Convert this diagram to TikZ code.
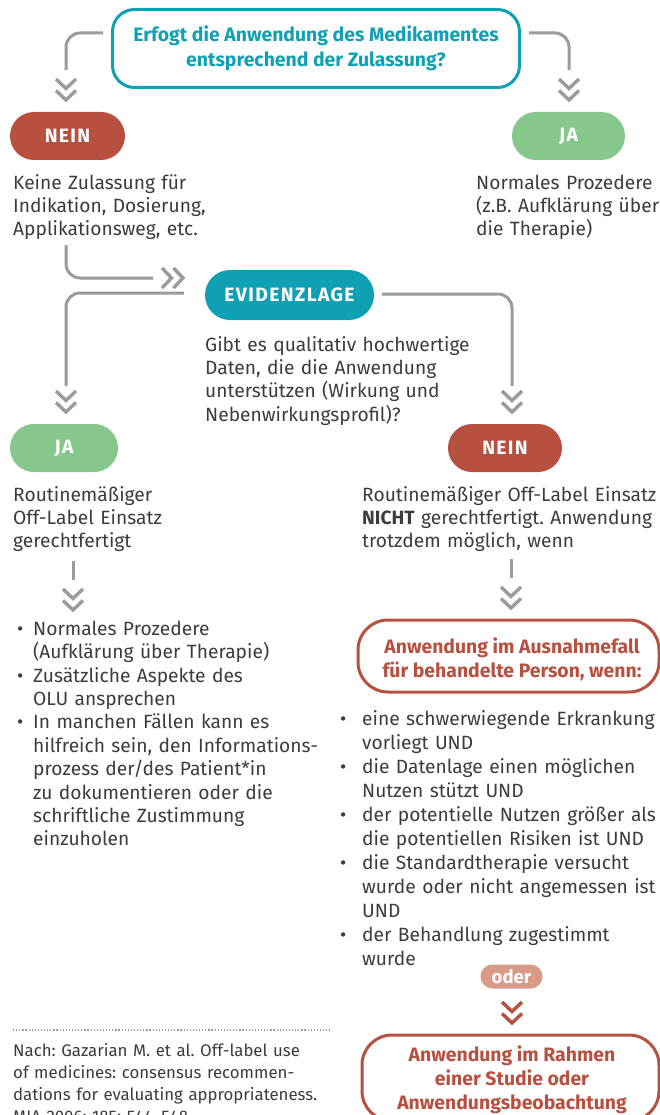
\documentclass[tikz,border=0pt]{standalone}
\usepackage{fontspec}
\setmainfont{Fira Sans}
\newfontfamily\pillfont[LetterSpace=7]{Fira Sans}
\definecolor{tealc}{HTML}{0FA0B4}
\definecolor{redc}{HTML}{B8503F}
\definecolor{greenc}{HTML}{86C88B}
\definecolor{salmonc}{HTML}{D99B88}
\definecolor{linegray}{HTML}{9B9B9D}
\definecolor{textgray}{HTML}{3C3C3C}
\newcommand\bodyfont{\fontsize{19.2}{23.4}\selectfont\frenchspacing}
\newcommand\smallbody{\fontsize{16.8}{22}\selectfont\frenchspacing}
\newcommand\itmL[1]{\par\noindent\hangindent=16pt\hangafter=1\makebox[16pt][l]{\strut•}#1}
\newcommand\itmR[1]{\par\noindent\hangindent=22pt\hangafter=1\makebox[22pt][l]{\strut•}#1}
\begin{document}
\begin{tikzpicture}[x=1pt,y=-1pt,
  pill/.style={rounded corners=24pt, minimum height=48pt, text=white, font=\pillfont\bfseries\fontsize{19.3}{22}\selectfont, inner sep=0pt},
  txt/.style={anchor=north west, inner sep=0pt, align=left, text=textgray, font=\bodyfont, text width=330pt},
  conn/.style={draw=linegray, line width=3pt, rounded corners=14pt},
  chevst/.style={draw=linegray, line width=3.4pt},
  chevd/.pic={\draw[chevst] (-10,0)--(0,9.5)--(10,0); \draw[chevst] (-10,11.5)--(0,21)--(10,11.5);},
  chevdr/.pic={\draw[chevst,draw=redc] (-10,0)--(0,9.5)--(10,0); \draw[chevst,draw=redc] (-10,11.5)--(0,21)--(10,11.5);},
  chevr/.pic={\draw[chevst] (0,-10)--(9.5,0)--(0,10); \draw[chevst] (11.5,-10)--(21,0)--(11.5,10);},
  outbox/.style={draw=redc, line width=3pt, rounded corners=30pt, inner sep=0pt},
  outtxt/.style={text=redc, align=center, font=\bfseries\fontsize{19.4}{23.8}\selectfont, inner sep=0pt}
]
\useasboundingbox (0,0) rectangle (660,1115);
\clip (0,0) rectangle (660,1115);
\fill[white] (0,0) rectangle (660,1115);

% top question
\node[draw=tealc, line width=3pt, rounded corners=22pt, minimum width=407pt, minimum height=78pt,
  text=tealc, align=center, font=\bfseries\fontsize{19.4}{25}\selectfont, inner sep=0pt] (q) at (316,48.5)
  {Erfogt die Anwendung des Medikamentes\\entsprechend der Zulassung?};

\node[pill, fill=redc, minimum width=115pt] (nein1) at (67.5,136) {NEIN};
\node[pill, fill=greenc, minimum width=113pt] (ja1) at (568.5,136) {JA};

\coordinate (a1) at (66,70);
\coordinate (a2) at (569,70);
\draw[conn] ([xshift=-8pt,yshift=15.5pt]q.west) -| (a1);
\draw[conn] ([xshift=8pt,yshift=15.5pt]q.east) -| (a2);
\pic at (66,79) {chevd};
\pic at (569,79) {chevd};

\node[txt] (t1) at (13,172.6) {\strut Keine Zulassung für\\Indikation, Dosierung,\\Applikationsweg, etc.};
\node[txt] (t2) at (476,172.6) {\strut Normales Prozedere\\(z.B. Aufklärung über\\die Therapie)};

% evidence
\node[pill, fill=tealc, minimum width=169pt, minimum height=50pt, rounded corners=25pt] (ev) at (289.5,295) {EVIDENZLAGE};
\coordinate (b0) at (66,245);
\coordinate (b1) at (153,278);
\draw[conn] (b0) |- (b1);
\pic at (162,278) {chevr};
\coordinate (b2) at (66,386);
\coordinate (b3) at (512,386);
\draw[conn] ([xshift=-21pt,yshift=2pt]ev.west) -| (b2);
\draw[conn] ([xshift=8pt,yshift=1pt]ev.east) -| (b3);
\pic at (66,391) {chevd};
\pic at (512,391) {chevd};

\node[txt] (t3) at (205,334.6) {\strut Gibt es qualitativ hochwertige\\Daten, die die Anwendung\\unterstützen (Wirkung und\\Nebenwirkungsprofil)?};

\node[pill, fill=greenc, minimum width=108pt] (ja2) at (64,448) {JA};
\node[pill, fill=redc, minimum width=114pt] (nein2) at (505,448) {NEIN};

\node[txt] (t4) at (13,484.6) {\strut Routinemäßiger\\Off-Label Einsatz\\gerechtfertigt};
\node[txt] (t5) at (362,484.6) {\strut Routinemäßiger Off-Label Einsatz\\\textbf{NICHT} gerechtfertigt. Anwendung\\trotzdem möglich, wenn};

\coordinate (c0) at (73,561);
\coordinate (c1) at (73,580);
\draw[conn] (c0) -- (c1);
\pic at (73,589) {chevd};
\coordinate (d0) at (511,559);
\coordinate (d1) at (511,578);
\draw[conn] (d0) -- (d1);
\pic at (511,587) {chevd};

\node[txt] (l1) at (17,611.6) {%
\itmL{Normales Prozedere\newline (Aufklärung über Therapie)}
\itmL{Zusätzliche Aspekte des\newline OLU ansprechen}
\itmL{In manchen Fällen kann es\newline hilfreich sein, den Informations-\newline prozess der/des Patient*in\newline zu dokumentieren oder die\newline schriftliche Zustimmung\newline einzuholen}\par};

\node[outbox, minimum width=301pt, minimum height=72pt] (aus) at (508.5,656) {};
\node[outtxt] (austxt) at (512,659) {Anwendung im Ausnahmefall\\für behandelte Person, wenn:};

\node[txt, font=\fontsize{19.2}{24}\selectfont\frenchspacing] (l2) at (340,701) {%
\itmR{eine schwerwiegende Erkrankung\newline vorliegt UND}
\itmR{die Datenlage einen möglichen\newline Nutzen stützt UND}
\itmR{der potentielle Nutzen größer als\newline die potentiellen Risiken ist UND}
\itmR{die Standardtherapie versucht\newline wurde oder nicht angemessen ist\newline UND}
\itmR{der Behandlung zugestimmt\newline wurde}\par};

\node[pill, fill=salmonc, minimum width=62pt, minimum height=24pt, rounded corners=12pt,
  font=\bfseries\fontsize{18.5}{20}\selectfont] (oder) at (511.5,976.5) {oder};
\pic at (512,1002) {chevdr};

\node[outbox, minimum width=297pt, minimum height=86pt] (stud) at (510.5,1078) {};
\node[outtxt] (studtxt) at (512,1080) {Anwendung im Rahmen\\einer Studie oder\\Anwendungsbeobachtung};

% footnote
\coordinate (f0) at (13,1030);
\coordinate (f1) at (330,1030);
\draw[linegray, line width=1.2pt, dash pattern=on 1.2pt off 1.9pt] (f0) -- (f1);
\node[txt, font=\smallbody] (fn) at (13,1041) {\strut Nach: Gazarian M. et al. Off-label use\\of medicines: consensus recommen-\\dations for evaluating appropriateness.\\MJA 2006; 185: 544–548};
\end{tikzpicture}
\end{document}
